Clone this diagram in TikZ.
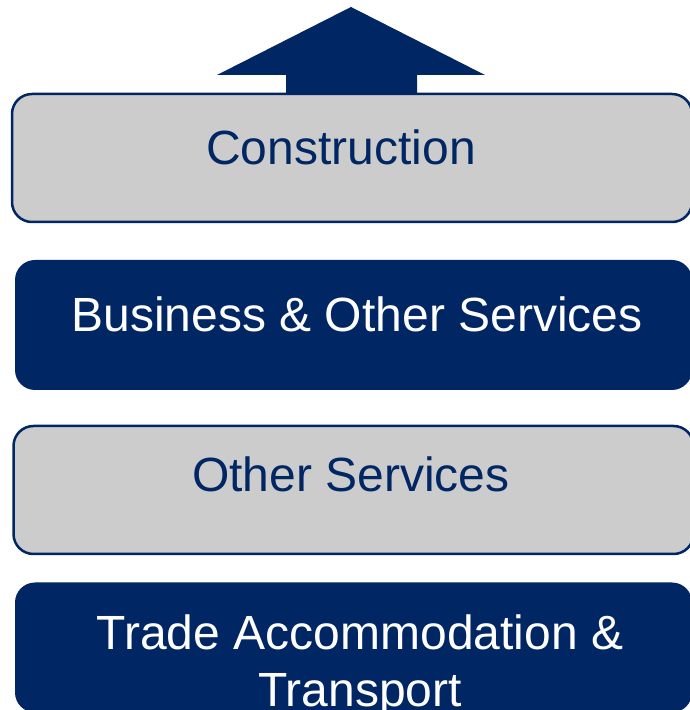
\documentclass[tikz,border=0pt]{standalone}
\usepackage{fontspec}
\setmainfont{Liberation Sans}
\usetikzlibrary{positioning}

\definecolor{navy}{RGB}{0,38,100}
\definecolor{lightgray}{RGB}{204,204,204}

\tikzstyle{graybox}=[draw=navy,line width=2.5pt,fill=lightgray,rectangle,rounded corners=20pt,minimum width=680pt,minimum height=128pt,inner sep=0pt]
\tikzstyle{navybox}=[fill=navy,rectangle,rounded corners=20pt,minimum width=677pt,minimum height=130pt,inner sep=0pt]
\tikzstyle{label}=[font=\fontsize{48}{56}\selectfont,anchor=base,inner sep=0pt,align=center]

\begin{document}
\begin{tikzpicture}[x=1pt,y=1pt]
			\useasboundingbox (0,0) rectangle (690,710);
			\begin{scope}
				% boxes
				\node (cons)[graybox]  at (352,552) {};
				\node (bus)[navybox]   at (353.5,385) {};
				\node (oth)[graybox]   at (353.5,220) {};
				\node (trade)[navybox] at (353.5,62.5) {};
				
				% arrow on top
				\fill[navy] (286,616) -- (286,635) -- (217,635) -- (351,703) -- (485,635) -- (417,635) -- (417,616) -- cycle;
				
				% texts
				\node (tcons)[label,text=navy]   at (341,545) {Construction};
				\node (tbus)[label,text=white]   at (357,378) {Business \& Other Services};
				\node (toth)[label,text=navy]    at (351,218) {Other Services};
				\node (ttrade)[label,text=white] at (360,60) {Trade Accommodation \&};
				\node (ttrans)[label,text=white] at (360,4) {Transport};
			\end{scope}
		\end{tikzpicture}
\end{document}
